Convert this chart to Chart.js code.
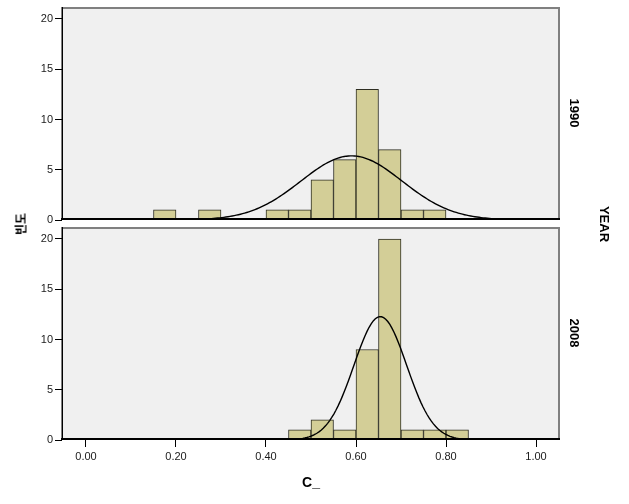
<!DOCTYPE html>
<html>
<head>
<meta charset="utf-8">
<script src="https://cdn.jsdelivr.net/npm/chart.js@4.4.1/dist/chart.umd.min.js"></script>
<style>
  html, body { margin: 0; padding: 0; background: #fff; }
  body { width: 629px; height: 504px; position: relative; overflow: hidden; }
  canvas { position: absolute; left: 0; }
  .lbl { position: absolute; font-family: "Liberation Sans", Arial, sans-serif; font-weight: bold; color: #000; white-space: nowrap; }
</style>
</head>
<body>
<canvas id="c1" width="629" height="224" style="top:0px"></canvas>
<canvas id="c2" width="629" height="280" style="top:224px"></canvas>
<div class="lbl" id="ylab" style="font-family:'Noto Sans CJK KR',sans-serif;font-size:12px;left:20px;top:224px;transform:translate(-50%,-50%) rotate(-90deg);">빈도</div>
<div class="lbl" id="p1" style="font-size:13px;left:574px;top:113px;transform:translate(-50%,-50%) rotate(90deg);">1990</div>
<div class="lbl" id="p2" style="font-size:13px;left:574px;top:333px;transform:translate(-50%,-50%) rotate(90deg);">2008</div>
<div class="lbl" id="yr" style="font-size:13px;left:604px;top:224px;transform:translate(-50%,-50%) rotate(90deg);">YEAR</div>
<script>
// ---- Data ----
const binCenters = [0.175, 0.225, 0.275, 0.325, 0.375, 0.425, 0.475, 0.525, 0.575, 0.625, 0.675, 0.725, 0.775, 0.825];
const counts1990 = [1, 0, 1, 0, 0, 1, 1, 4, 6, 13, 7, 1, 1, 0];
const counts2008 = [0, 0, 0, 0, 0, 0, 1, 2, 1, 9, 20, 1, 1, 1];
const panelLabels = ["1990", "2008"];
// fitted normal curve parameters (mean, sd, n, bin width)
const fit1990 = { mean: 0.590, sd: 0.1125, n: 36, binWidth: 0.05 };
const fit2008 = { mean: 0.654, sd: 0.0585, n: 36, binWidth: 0.05 };
const xTicks = [0.00, 0.20, 0.40, 0.60, 0.80, 1.00];
const yTicks = [0, 5, 10, 15, 20];
const xTitle = "C_";
const X_MIN = -0.0533, X_MAX = 1.0533, Y_MAX = 21.19;

function normalCurve(f) {
  const pts = [];
  for (let i = 0; i <= 240; i++) {
    const x = X_MIN + (X_MAX - X_MIN) * i / 240;
    const z = (x - f.mean) / f.sd;
    pts.push({ x: x, y: f.n * f.binWidth * Math.exp(-0.5 * z * z) / (f.sd * Math.sqrt(2 * Math.PI)) });
  }
  return pts;
}
function bars(counts) {
  return binCenters.map((c, i) => ({ x: c, y: counts[i] === 0 ? null : counts[i] }));
}

const framePlugin = {
  id: 'frame',
  beforeDatasetsDraw(chart) {
    const { ctx, chartArea: a } = chart;
    ctx.save();
    ctx.fillStyle = '#F0F0F0';
    ctx.fillRect(a.left, a.top, a.right - a.left, a.bottom - a.top);
    ctx.restore();
  },
  afterDraw(chart) {
    const { ctx, chartArea: a } = chart;
    ctx.save();
    ctx.strokeStyle = '#808080';
    ctx.lineWidth = 2;
    ctx.beginPath();
    ctx.moveTo(a.left, a.top + 1); ctx.lineTo(a.right - 1, a.top + 1); ctx.lineTo(a.right - 1, a.bottom);
    ctx.stroke();
    ctx.strokeStyle = '#000';
    ctx.lineWidth = 1.5;
    ctx.beginPath();
    ctx.moveTo(a.left + 0.25, a.top); ctx.lineTo(a.left + 0.25, a.bottom);
    ctx.stroke();
    ctx.lineWidth = 2;
    ctx.beginPath();
    ctx.moveTo(a.left - 1, a.bottom - 1); ctx.lineTo(a.right, a.bottom - 1);
    ctx.stroke();
    ctx.restore();
  }
};

const tickFont = { family: "'Liberation Sans', Arial, sans-serif", size: 11 };

function makeChart(id, counts, fit, showX) {
  return new Chart(document.getElementById(id), {
    data: {
      datasets: [
        { type: 'line', data: normalCurve(fit), borderColor: '#000', borderWidth: 1.4,
          pointRadius: 0, fill: false, tension: 0, order: 0 },
        { type: 'bar', data: bars(counts), backgroundColor: '#D3CE97', borderColor: '#2E2E22',
          borderWidth: 1, borderSkipped: false, barPercentage: 1, categoryPercentage: 1, order: 1 }
      ]
    },
    options: {
      responsive: false, animation: false, devicePixelRatio: 1,
      layout: { padding: showX ? { left: 0, right: 69, top: 3, bottom: 0 } : { left: 0, right: 69, top: 7, bottom: 4 } },
      plugins: { legend: { display: false }, tooltip: { enabled: false } },
      scales: {
        x: {
          type: 'linear', min: X_MIN, max: X_MAX, display: showX, offset: false,
          afterBuildTicks: s => { s.ticks = xTicks.map(v => ({ value: v })); },
          afterFit: s => { if (showX) s.height = 64; else s.height = 0; s.paddingLeft = 0; s.paddingRight = 0; },
          ticks: { autoSkip: false, maxRotation: 0, padding: 3, color: '#1a1a1a', font: tickFont,
                   callback: v => Number(v).toFixed(2) },
          grid: { offset: false, drawOnChartArea: false, drawTicks: true, tickLength: 7, color: '#000', lineWidth: 1 },
          border: { display: false },
          title: { display: true, text: xTitle, color: '#000',
                   font: { family: "'Liberation Sans', Arial, sans-serif", size: 14, weight: 'bold' },
                   padding: { top: 0, bottom: 12 } }
        },
        y: {
          min: 0, max: Y_MAX,
          afterBuildTicks: s => { s.ticks = yTicks.map(v => ({ value: v })); },
          afterFit: s => { s.width = 62; s.paddingTop = 0; s.paddingBottom = 0; },
          ticks: { padding: 2, color: '#1a1a1a', font: tickFont },
          grid: { drawOnChartArea: false, drawTicks: true, tickLength: 7, color: '#000', lineWidth: 1 },
          border: { display: false }
        }
      }
    },
    plugins: [framePlugin]
  });
}

makeChart('c1', counts1990, fit1990, false);
makeChart('c2', counts2008, fit2008, true);
</script>
</body>
</html>
